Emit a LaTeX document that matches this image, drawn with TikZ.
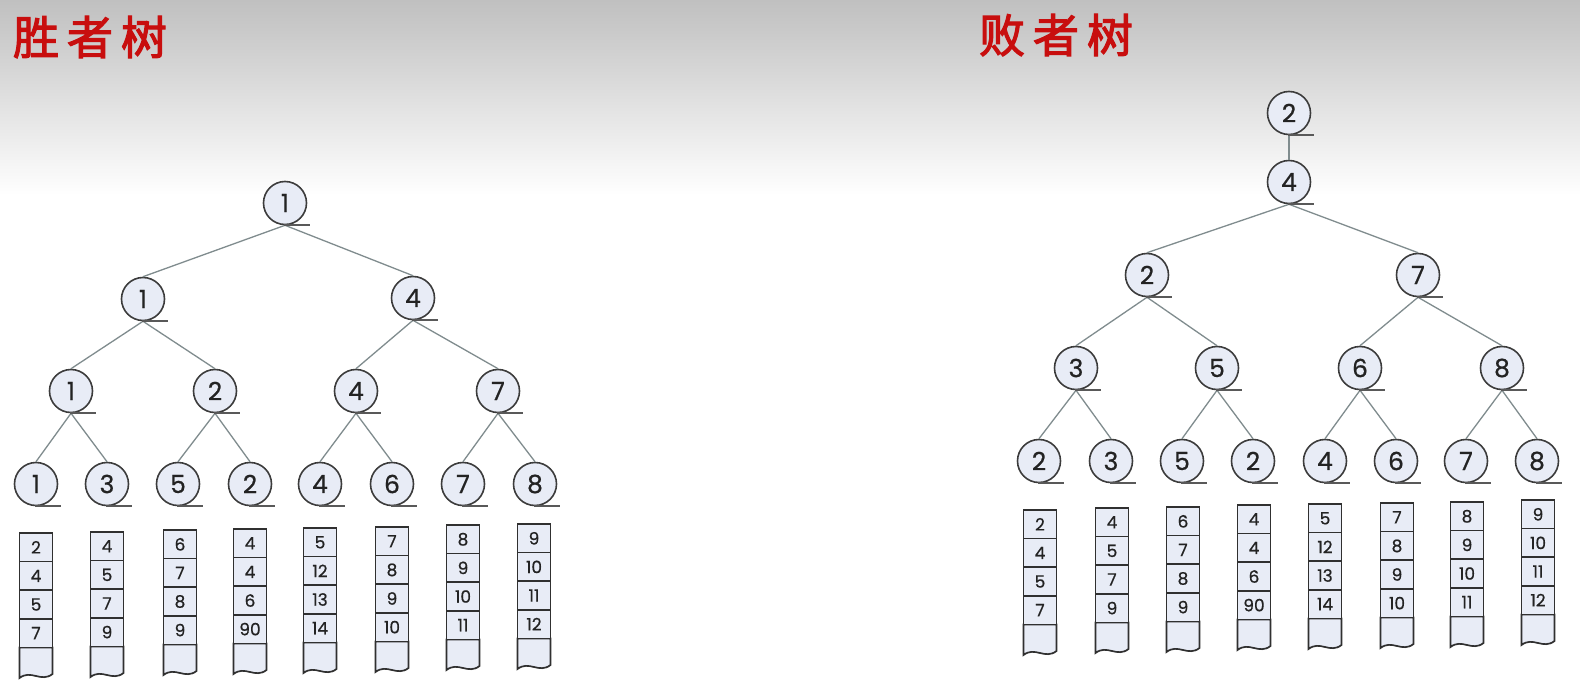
\documentclass[tikz,border=0pt]{standalone}
\usepackage{fontspec}
\newfontfamily\cjk{Noto Sans CJK SC}[FakeBold=2.5]
\newfontfamily\digfont{Poppins}[FakeBold=0.6]
\definecolor{bgA}{RGB}{192,192,192}
\definecolor{bgB}{RGB}{214,214,214}
\definecolor{nfill}{RGB}{232,236,246}
\definecolor{ndraw}{RGB}{60,60,60}
\definecolor{edgec}{RGB}{128,140,142}
\definecolor{ntext}{RGB}{35,35,35}
\definecolor{titlered}{RGB}{200,14,14}
\tikzset{
  tn/.style={circle, draw=ndraw, fill=nfill, line width=1.6pt, minimum size=43pt, inner sep=0pt,
    font=\digfont\fontsize{25}{25}\selectfont, text=ntext},
  uline/.style={draw=ndraw!85, line width=1.8pt},
  edge/.style={draw=edgec, line width=1.3pt},
  cell/.style={rectangle, draw=ndraw!80!black, fill=nfill, line width=1.7pt, minimum width=33pt,
    minimum height=28.6pt, inner sep=0pt, font=\digfont\fontsize{17}{17}\selectfont, text=ntext},
  cellbot/.style={draw=ndraw!80!black, fill=nfill, line width=1.7pt},
  title/.style={font=\cjk\fontsize{46}{46}\selectfont, text=titlered, inner sep=0pt}
}
\newcommand\stk[7]{%
  \filldraw[cellbot] (#2-16.5,#3+114.4) -- (#2-16.5,#3+145) .. controls (#2-5,#3+136) and (#2+5,#3+150) .. (#2+16.5,#3+141) -- (#2+16.5,#3+114.4) -- cycle;
  \node[cell] (#1a) at (#2,#3+14.3) {#4};
  \node[cell] (#1b) at (#2,#3+42.9) {#5};
  \node[cell] (#1c) at (#2,#3+71.5) {#6};
  \node[cell] (#1d) at (#2,#3+100.1) {#7};
}
\newcommand\tnode[4]{%
  \node[tn] (#1) at (#2,#3) {#4};
}
\newcommand\ul[1]{\draw[uline] ([xshift=-1pt]#1.south) -- ++(26,0);}
\begin{document}
\begin{tikzpicture}[x=1pt,y=-1pt]
\useasboundingbox (0,0) rectangle (1580,698);
\fill[white] (0,0) rectangle (1580,698);
\shade[top color=bgA, bottom color=bgB] (0,0) rectangle (1580,70);
\shade[top color=bgB, bottom color=white] (0,69.5) rectangle (1580,195);

\node[title] (t1) at (90,37) {胜\hspace{8pt}者\hspace{8pt}树};
\node[title] (t2) at (1056,35) {败\hspace{8pt}者\hspace{8pt}树};

% winner tree
\tnode{w1}{285}{203}{1}
\tnode{w2}{143}{299}{1}
\tnode{w3}{413}{298}{4}
\tnode{w4}{71}{391}{1}
\tnode{w5}{215}{391}{2}
\tnode{w6}{356}{391}{4}
\tnode{w7}{498}{391}{7}
\tnode{w8}{36}{484}{1}
\tnode{w9}{107}{484}{3}
\tnode{w10}{178}{484}{5}
\tnode{w11}{250}{484}{2}
\tnode{w12}{320}{484}{4}
\tnode{w13}{392}{484}{6}
\tnode{w14}{463}{484}{7}
\tnode{w15}{535}{484}{8}
\foreach \p/\c in {w1/w2,w1/w3,w2/w4,w2/w5,w3/w6,w3/w7,w4/w8,w4/w9,w5/w10,w5/w11,w6/w12,w6/w13,w7/w14,w7/w15}
  {\draw[edge] (\p.south) -- (\c.north);}
\foreach \n in {w1,w2,w3,w4,w5,w6,w7,w8,w9,w10,w11,w12,w13,w14,w15}
  {\ul{\n}}

% loser tree
\tnode{l0}{1289}{113}{2}
\tnode{l1}{1289}{182}{4}
\tnode{l2}{1147}{275}{2}
\tnode{l3}{1418}{275}{7}
\tnode{l4}{1076}{368}{3}
\tnode{l5}{1217}{368}{5}
\tnode{l6}{1360}{368}{6}
\tnode{l7}{1502}{368}{8}
\tnode{l8}{1039}{461}{2}
\tnode{l9}{1111}{461}{3}
\tnode{l10}{1182}{461}{5}
\tnode{l11}{1253}{461}{2}
\tnode{l12}{1325}{461}{4}
\tnode{l13}{1396}{461}{6}
\tnode{l14}{1466}{461}{7}
\tnode{l15}{1537}{461}{8}
\foreach \p/\c in {l0/l1,l1/l2,l1/l3,l2/l4,l2/l5,l3/l6,l3/l7,l4/l8,l4/l9,l5/l10,l5/l11,l6/l12,l6/l13,l7/l14,l7/l15}
  {\draw[edge] (\p.south) -- (\c.north);}
\foreach \n in {l0,l1,l2,l3,l4,l5,l6,l7,l8,l9,l10,l11,l12,l13,l14,l15}
  {\ul{\n}}

% winner lists
\stk{wa}{36}{533}{2}{4}{5}{7}
\stk{wb}{107}{532}{4}{5}{7}{9}
\stk{wc}{180}{530}{6}{7}{8}{9}
\stk{wd}{250}{529}{4}{4}{6}{90}
\stk{we}{320}{528}{5}{12}{13}{14}
\stk{wf}{392}{527}{7}{8}{9}{10}
\stk{wg}{463}{525}{8}{9}{10}{11}
\stk{wh}{534}{524}{9}{10}{11}{12}

% loser lists
\stk{la}{1040}{510}{2}{4}{5}{7}
\stk{lb}{1112}{508}{4}{5}{7}{9}
\stk{lc}{1183}{507}{6}{7}{8}{9}
\stk{ld}{1254}{505}{4}{4}{6}{90}
\stk{le}{1325}{504}{5}{12}{13}{14}
\stk{lf}{1397}{503}{7}{8}{9}{10}
\stk{lg}{1467}{502}{8}{9}{10}{11}
\stk{lh}{1538}{500}{9}{10}{11}{12}
\end{tikzpicture}
\end{document}
